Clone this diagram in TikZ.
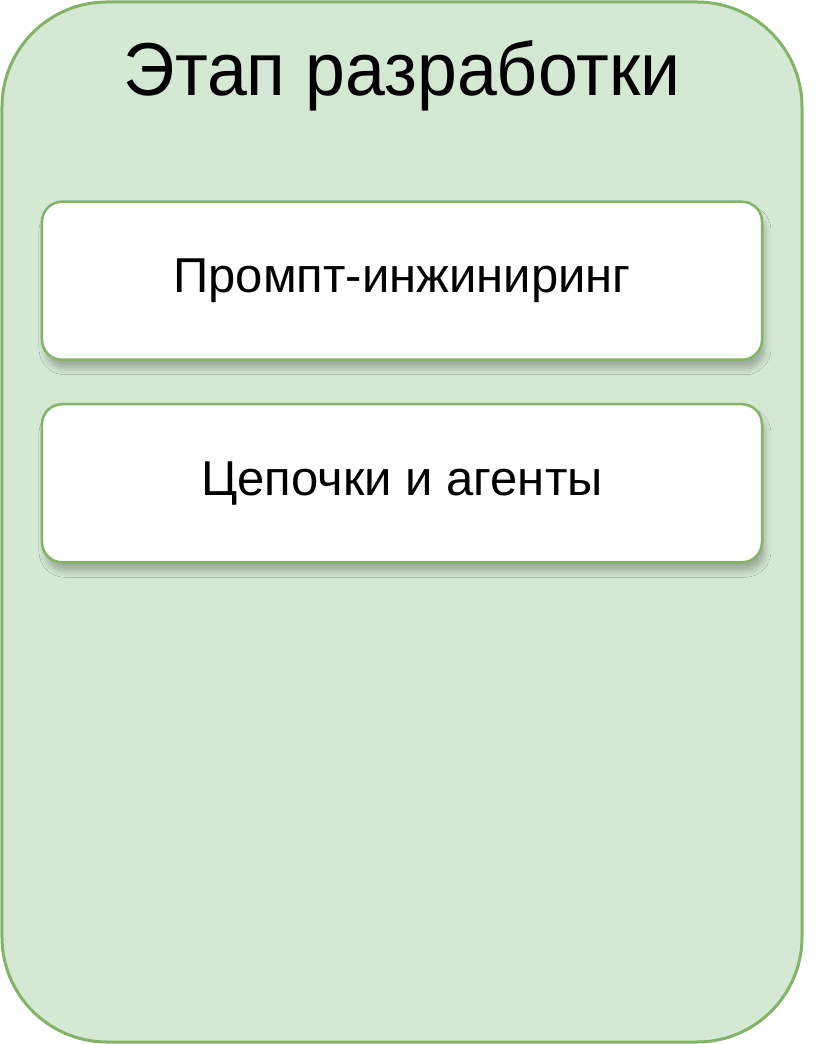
\documentclass[tikz,border=0pt]{standalone}
\usepackage{fontspec}
\setmainfont{Liberation Sans}
\newfontfamily\titlefont[FakeStretch=0.955]{Liberation Sans}
\usepackage{xcolor}
\usepackage{tikz}
\usetikzlibrary{positioning, shadows.blur}
\definecolor{stagefill}{HTML}{D5E8D4}
\definecolor{stageline}{HTML}{82B366}
\tikzstyle{stage} = [rectangle, rounded corners=105pt, minimum width=800pt, minimum height=1040pt, fill=stagefill, draw=stageline, line width=3pt]
\tikzstyle{title} = [font=\titlefont\fontsize{75}{80}\selectfont, anchor=base]
\tikzstyle{block} = [rectangle, rounded corners=20pt, minimum width=720pt, minimum height=158pt, text centered, fill=white, draw=stageline, line width=2.5pt, font=\fontsize{49}{54}\selectfont, blur shadow={shadow xshift=3pt, shadow yshift=-9pt, shadow blur radius=6pt, shadow opacity=25}]

\begin{document}
\begin{tikzpicture}
		\useasboundingbox (-402pt,522pt) rectangle (434pt,-522pt);
		\node (Stage)[stage] at (0,0) {};
		\node (Title)[title] at ([yshift=-95pt]Stage.north) {Этап разработки};
		\node (Prompting)[block, below = 200pt of Stage.north] {Промпт-инжиниринг};
		\node (Chains)[block, below = 42pt of Prompting] {Цепочки и агенты};
	\end{tikzpicture}
\end{document}
